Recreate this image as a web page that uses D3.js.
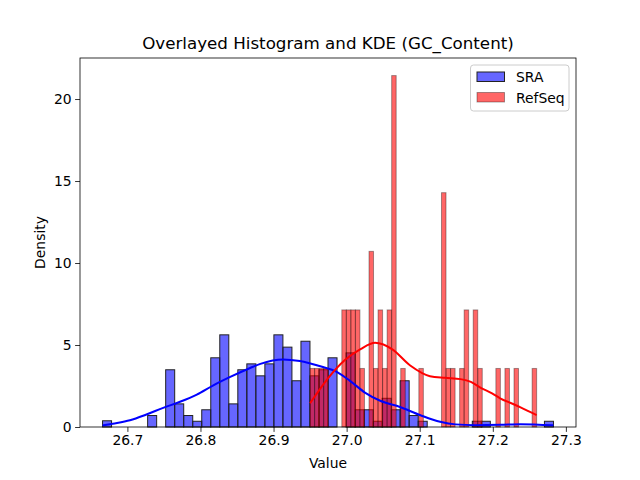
<!DOCTYPE html>
<html>
<head>
<meta charset="utf-8">
<script src="https://cdn.jsdelivr.net/npm/d3@7"></script>
<style>
  body { margin: 0; background: #fff; }
  svg { font-family: "DejaVu Sans", sans-serif; }
</style>
</head>
<body>
<svg id="chart" width="640" height="480"></svg>
<script>
// histogram bins: 50 bins per series, density per bin
const sraRange = [26.666, 27.283];
const sraDensity = [
  0.38, 0, 0, 0, 0, 0.7, 0, 3.49, 1.41, 0.7,
  0.35, 1.05, 4.22, 5.62, 1.41, 3.49, 3.85, 3.12, 3.85, 5.62,
  4.87, 2.82, 5.23, 3.12, 3.49, 4.22, 0, 4.52, 1.05, 1.05,
  0.35, 1.75, 1.05, 2.82, 0.7, 0.35, 0, 0, 0, 0,
  0, 0.35, 0.35, 0, 0, 0, 0, 0, 0, 0.35
];

const refRange = [26.950, 27.260];
const refDensity = [
  3.57, 3.57, 3.57, 3.57, 0, 0, 0, 7.14, 7.14, 7.14,
  7.14, 3.57, 0, 10.71, 3.57, 7.14, 3.57, 7.14, 21.43, 0,
  3.57, 0, 0, 0, 3.57, 0, 0, 0, 0, 14.29,
  3.57, 3.57, 0, 3.57, 7.14, 0, 7.14, 3.57, 0, 0,
  0, 3.57, 0, 3.57, 0, 3.57, 0, 0, 0, 3.57
];

// kde curves
const sraKdeX = [26.666, 26.680, 26.7035, 26.726, 26.749, 26.772, 26.795, 26.817, 26.840, 26.868,
  26.882, 26.913, 26.936, 26.964, 26.987, 27.005, 27.025, 27.046, 27.073, 27.101,
  27.128, 27.149, 27.176, 27.210, 27.238, 27.283];
const sraKdeY = [0.09, 0.2, 0.41, 0.76, 1.17, 1.54, 1.98, 2.53, 3.04, 3.6,
  3.85, 4.12, 4.02, 3.7, 3.35, 2.8, 2.1, 1.6, 1.22, 0.72,
  0.32, 0.16, 0.11, 0.13, 0.17, 0.1];

const refKdeX = [26.950, 26.975, 26.998, 27.019, 27.039, 27.062, 27.087, 27.114, 27.135, 27.156,
  27.170, 27.183, 27.199, 27.210, 27.227, 27.238, 27.260];
const refKdeY = [1.45, 3.0, 4.1, 4.75, 5.13, 4.75, 3.75, 3.1, 3.0, 2.92,
  2.75, 2.4, 2.05, 1.75, 1.42, 1.2, 0.73];

const xTicks = [26.7, 26.8, 26.9, 27.0, 27.1, 27.2, 27.3];
const yTicks = [0, 5, 10, 15, 20];
const seriesNames = ['SRA', 'RefSeq'];

const margin = {left: 80, right: 64, top: 58, bottom: 53};
const width = 640 - margin.left - margin.right;
const height = 480 - margin.top - margin.bottom;

const svg = d3.select('#chart');
const g = svg.append('g').attr('transform', `translate(${margin.left},${margin.top})`);

// matplotlib style 5% margins on x
const lo = sraRange[0], hi = sraRange[1];
const pad = (hi - lo) * 0.05;
const x = d3.scaleLinear().domain([lo - pad, hi + pad]).range([0, width]);
const yMax = d3.max(refDensity) * 1.05;
const y = d3.scaleLinear().domain([0, yMax]).range([height, 0]);

function bins(range, dens) {
  const w = (range[1] - range[0]) / dens.length;
  return dens.map((d, i) => ({x0: range[0] + i * w, x1: range[0] + (i + 1) * w, d: d}));
}

function drawBars(cls, data, fill, stroke, strokeWidth) {
  g.append('g').attr('class', cls)
    .selectAll('rect')
    .data(data.filter(b => b.d > 0))
    .enter()
    .append('rect')
    .attr('x', b => x(b.x0))
    .attr('y', b => y(b.d))
    .attr('width', b => x(b.x1) - x(b.x0))
    .attr('height', b => y(0) - y(b.d))
    .attr('fill', fill)
    .attr('stroke', stroke)
    .attr('stroke-width', strokeWidth);
}

drawBars('sra', bins(sraRange, sraDensity), 'rgba(0,0,255,0.6)', '#222', 1);
drawBars('refseq', bins(refRange, refDensity), 'rgba(255,0,0,0.6)', 'rgba(0,0,0,0.35)', 1);

const line = d3.line()
  .x(p => x(p[0]))
  .y(p => y(p[1]))
  .curve(d3.curveMonotoneX);

g.append('path')
  .attr('d', line(d3.zip(sraKdeX, sraKdeY)))
  .attr('fill', 'none')
  .attr('stroke', 'blue')
  .attr('stroke-width', 2);

g.append('path')
  .attr('d', line(d3.zip(refKdeX, refKdeY)))
  .attr('fill', 'none')
  .attr('stroke', 'red')
  .attr('stroke-width', 2);

// axes
const xAxis = g.append('g')
  .attr('transform', `translate(0,${height})`)
  .call(d3.axisBottom(x).tickValues(xTicks).tickFormat(d3.format('.1f')).tickSizeOuter(0).tickSize(4.9).tickPadding(3.5));
const yAxis = g.append('g')
  .call(d3.axisLeft(y).tickValues(yTicks).tickFormat(d3.format('d')).tickSizeOuter(0).tickSize(4.9).tickPadding(3.5));

[xAxis, yAxis].forEach(a => {
  a.select('.domain').remove();
  a.selectAll('text').attr('font-size', 13.9).attr('fill', '#000').attr('font-family', 'DejaVu Sans');
  a.selectAll('line').attr('stroke', '#000').attr('stroke-width', 0.8);
});

// frame
g.append('rect')
  .attr('width', width)
  .attr('height', height)
  .attr('fill', 'none')
  .attr('stroke', '#000')
  .attr('stroke-width', 0.8);

svg.append('text')
  .attr('x', margin.left + width / 2)
  .attr('y', 49)
  .attr('text-anchor', 'middle')
  .attr('font-size', 16.7)
  .text('Overlayed Histogram and KDE (GC_Content)');

svg.append('text')
  .attr('x', margin.left + width / 2)
  .attr('y', 468)
  .attr('text-anchor', 'middle')
  .attr('font-size', 13.9)
  .text('Value');

svg.append('text')
  .attr('transform', `translate(45,${margin.top + height / 2}) rotate(-90)`)
  .attr('text-anchor', 'middle')
  .attr('font-size', 13.9)
  .text('Density');

// legend
const legend = svg.append('g').attr('transform', 'translate(470.5,65)');
legend.append('rect')
  .attr('width', 98.5)
  .attr('height', 46)
  .attr('rx', 3)
  .attr('fill', 'rgba(255,255,255,0.8)')
  .attr('stroke', '#ccc')
  .attr('stroke-width', 1);

const legendFill = ['rgba(0,0,255,0.6)', 'rgba(255,0,0,0.6)'];
const legendStroke = ['#222', 'rgba(0,0,0,0.35)'];
seriesNames.forEach((name, i) => {
  const row = legend.append('g').attr('transform', `translate(0,${7 + i * 20.5})`);
  row.append('rect')
    .attr('x', 6.5).attr('y', 0)
    .attr('width', 27.5).attr('height', 9.5)
    .attr('fill', legendFill[i])
    .attr('stroke', legendStroke[i])
    .attr('stroke-width', 1);
  row.append('text')
    .attr('x', 45.5).attr('y', 10)
    .attr('font-size', 13.9)
    .text(name);
});
</script>
</body>
</html>
